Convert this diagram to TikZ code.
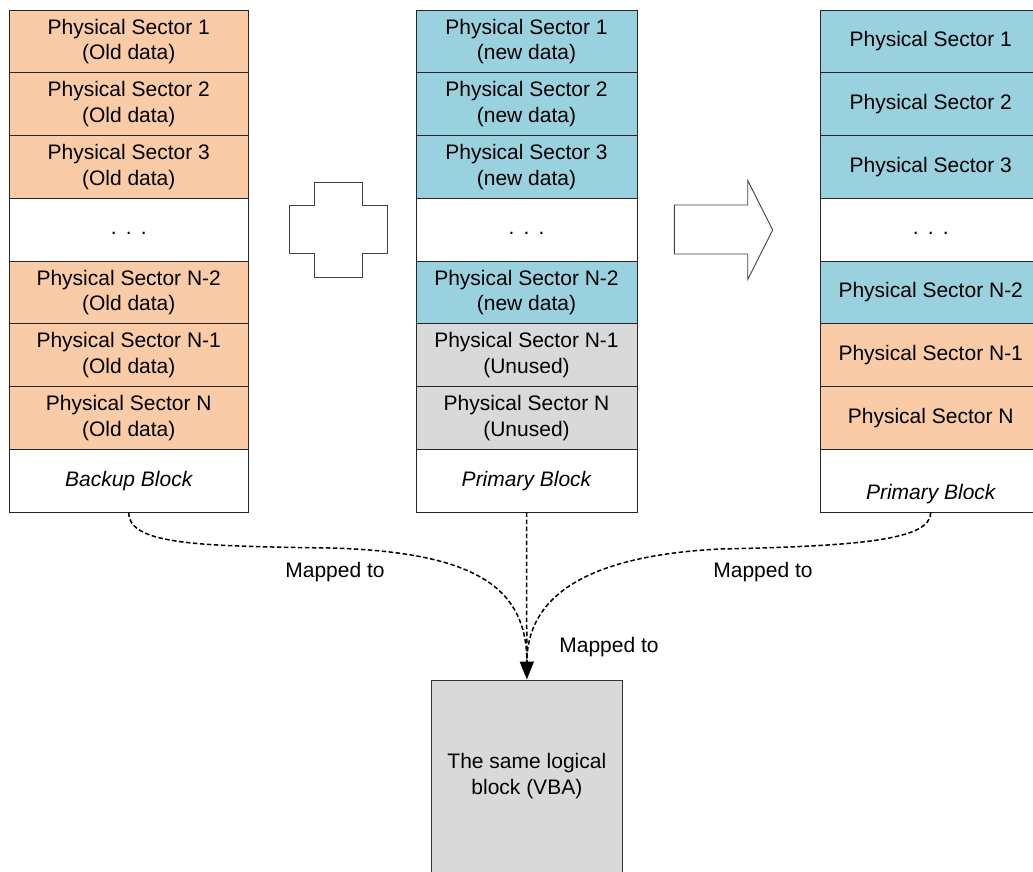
\documentclass[tikz,border=0pt]{standalone}
\usepackage{fontspec}
\setmainfont{Liberation Sans}
\usetikzlibrary{arrows.meta}
\definecolor{oldc}{HTML}{F9CBA6}
\definecolor{newc}{HTML}{9AD1DE}
\definecolor{unc}{HTML}{D9D9D9}
\begin{document}
\begin{tikzpicture}[x=1pt,y=-1pt, font=\fontsize{21}{25.5}\selectfont,
 cell/.style={draw=black!85, line width=1pt, minimum height=62.75pt, inner sep=0pt, align=center},
 lcell/.style={cell, minimum width=239.5pt},
 mcell/.style={cell, minimum width=221pt},
 old/.style={fill=oldc}, new/.style={fill=newc}, unused/.style={fill=unc}, blank/.style={fill=white},
 dots/.style={text height=15pt, text depth=4.4pt},
 lowtext/.style={text height=42pt, text depth=5pt},
 map/.style={dash pattern=on 4.5pt off 2.5pt, line width=1.5pt},
 shapeline/.style={draw=black!75, line width=0.9pt, fill=white},
 lbl/.style={inner sep=0pt}
]
\useasboundingbox (0,0) rectangle (1033,871);

% left column: backup block
\node[lcell,old] (l1) at (128.75,41.375) {Physical Sector 1\\(Old data)};
\node[lcell,old] (l2) at (128.75,104.125) {Physical Sector 2\\(Old data)};
\node[lcell,old] (l3) at (128.75,166.875) {Physical Sector 3\\(Old data)};
\node[lcell,blank,dots] (l4) at (128.75,229.625) {.\hspace{9.2pt}.\hspace{9.2pt}.};
\node[lcell,old] (l5) at (128.75,292.375) {Physical Sector N-2\\(Old data)};
\node[lcell,old] (l6) at (128.75,355.125) {Physical Sector N-1\\(Old data)};
\node[lcell,old] (l7) at (128.75,417.875) {Physical Sector N\\(Old data)};
\node[lcell,blank] (bL) at (128.75,480.625) {\itshape Backup Block};

% middle column: primary block
\node[mcell,new] (m1) at (526.5,41.375) {Physical Sector 1\\(new data)};
\node[mcell,new] (m2) at (526.5,104.125) {Physical Sector 2\\(new data)};
\node[mcell,new] (m3) at (526.5,166.875) {Physical Sector 3\\(new data)};
\node[mcell,blank,dots] (m4) at (526.5,229.625) {.\hspace{9.2pt}.\hspace{9.2pt}.};
\node[mcell,new] (m5) at (526.5,292.375) {Physical Sector N-2\\(new data)};
\node[mcell,unused] (m6) at (526.5,355.125) {Physical Sector N-1\\(Unused)};
\node[mcell,unused] (m7) at (526.5,417.875) {Physical Sector N\\(Unused)};
\node[mcell,blank] (bM) at (526.5,480.625) {\itshape Primary Block};

% right column: resulting primary block
\node[mcell,new] (r1) at (930.75,41.375) {Physical Sector 1};
\node[mcell,new] (r2) at (930.75,104.125) {Physical Sector 2};
\node[mcell,new] (r3) at (930.75,166.875) {Physical Sector 3};
\node[mcell,blank,dots] (r4) at (930.75,229.625) {.\hspace{9.2pt}.\hspace{9.2pt}.};
\node[mcell,new] (r5) at (930.75,292.375) {Physical Sector N-2};
\node[mcell,old] (r6) at (930.75,355.125) {Physical Sector N-1};
\node[mcell,old] (r7) at (930.75,417.875) {Physical Sector N};
\node[mcell,blank,lowtext] (bR) at (930.75,480.625) {\itshape Primary Block};

% plus shape
\draw[shapeline] (289,205.7) -- (314,205.7) -- (314,182.7) -- (362.3,182.7) -- (362.3,205.7)
  -- (387.3,205.7) -- (387.3,253.3) -- (362.3,253.3) -- (362.3,277) -- (314,277)
  -- (314,253.3) -- (289,253.3) -- cycle;

% block arrow shape
\draw[shapeline] (674.3,205) -- (747.7,205) -- (747.7,180.5) -- (772.7,230) -- (747.7,279.5)
  -- (747.7,254) -- (674.3,254) -- cycle;

% logical block
\node[draw=black!80, line width=1pt, fill=unc, minimum width=191.7pt, minimum height=192pt,
  inner sep=0pt, align=center] (vba) at (526.85,776) {The same logical\\block (VBA)};

% mappings
\coordinate (lmid) at (330,548);
\coordinate (rmid) at (720,549);
\draw[map] (bL.south) .. controls (128.75,545) and (200,546) .. (lmid)
  .. controls (480,552) and (526.85,590) .. ([yshift=17pt]vba.north);
\draw[map] (bR.south) .. controls (930.75,540) and (860,546) .. (rmid)
  .. controls (580,556) and (526.85,600) .. ([yshift=17pt]vba.north);
\draw[map, -{Triangle[length=18pt,width=14pt]}] (bM.south) -- (vba.north);

\node[lbl] (t1) at (335,572) {Mapped to};
\node[lbl] (t2) at (763,572) {Mapped to};
\node[lbl] (t3) at (609,647) {Mapped to};
\end{tikzpicture}
\end{document}
